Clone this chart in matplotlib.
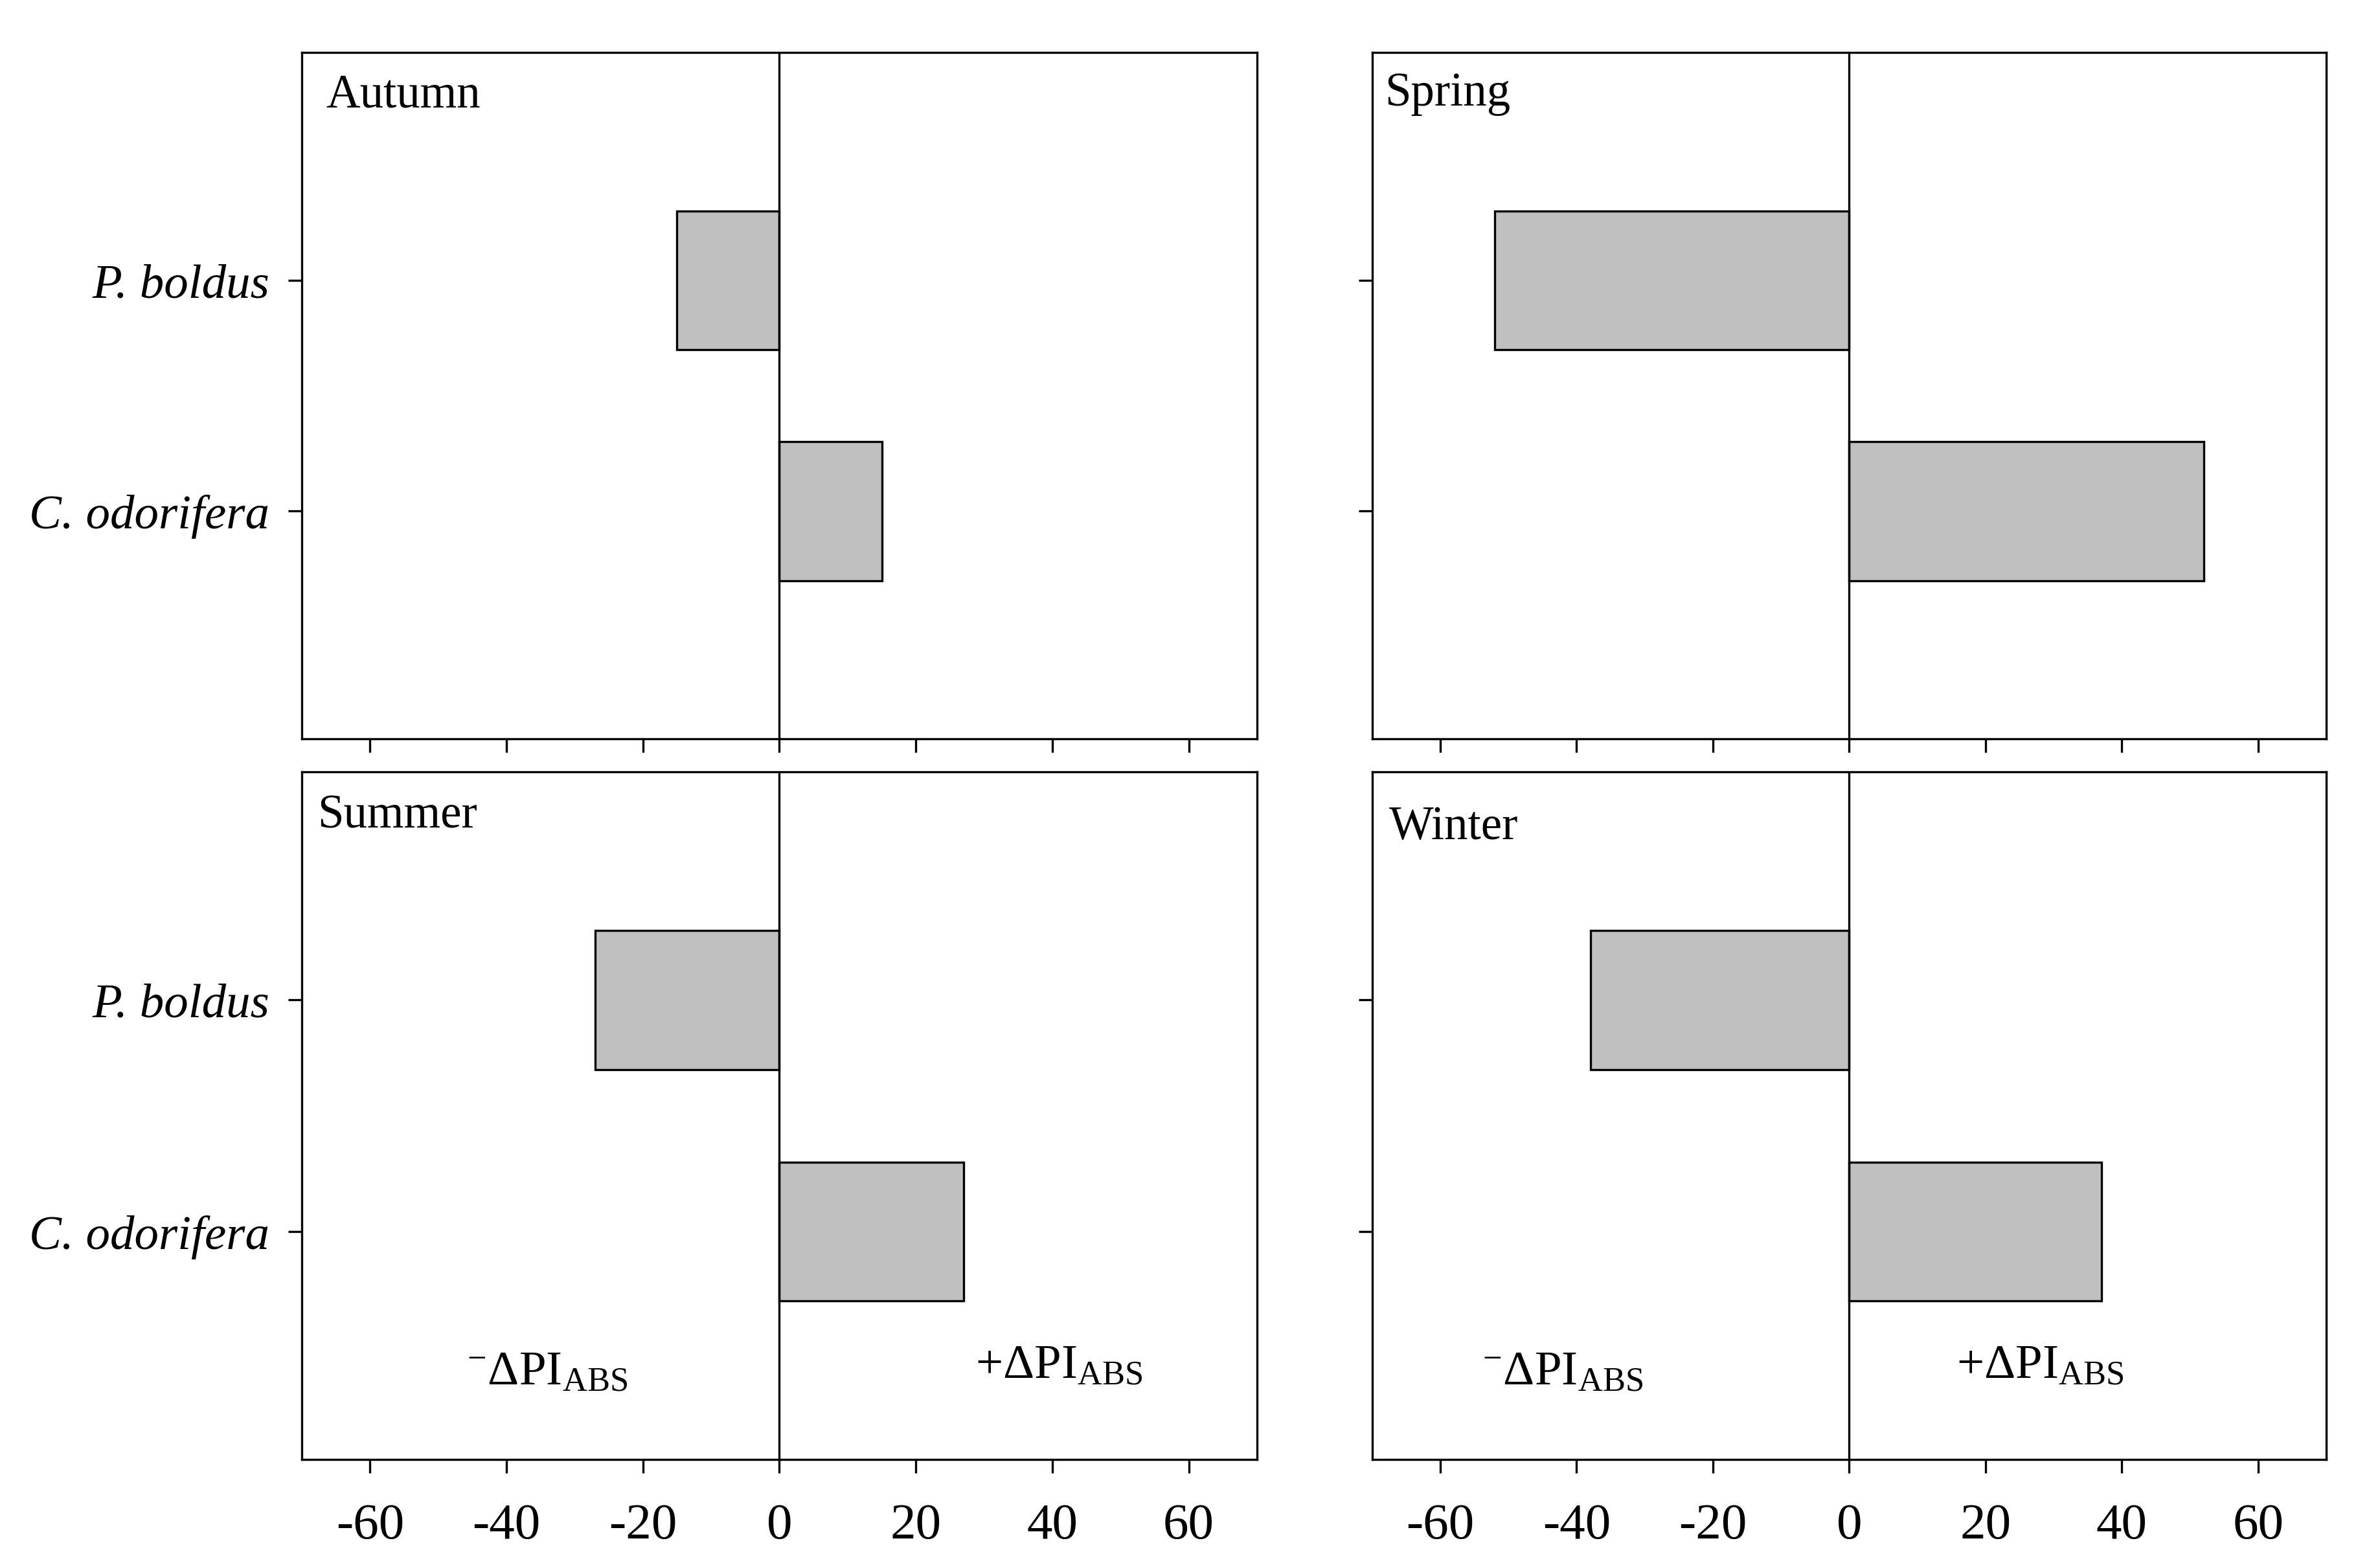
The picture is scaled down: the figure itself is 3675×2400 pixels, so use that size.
import matplotlib
matplotlib.use("Agg")
import matplotlib.pyplot as plt

plt.rcParams.update(
    {
        "font.family": "Liberation Serif",
        "mathtext.fontset": "custom",
        "mathtext.rm": "Liberation Serif",
        "mathtext.it": "Liberation Serif:italic",
        "axes.unicode_minus": False,
        "axes.linewidth": 0.8,
        "xtick.major.width": 0.8,
        "ytick.major.width": 0.8,
    }
)

SPECIES = ["P. boldus", "C. odorifera"]
SEASONS = ["Autumn", "Spring", "Summer", "Winter"]
DELTA_PI = {
    "Autumn": [-15, 15],
    "Spring": [-52, 52],
    "Summer": [-27, 27],
    "Winter": [-38, 37],
}
XTICKS = [-60, -40, -20, 0, 20, 40, 60]

# panel rectangles in figure fraction
RECTS = {
    "Autumn": [0.1268, 0.5244, 0.4012, 0.4414],
    "Spring": [0.5764, 0.5244, 0.4008, 0.4414],
    "Summer": [0.1268, 0.0608, 0.4012, 0.4423],
    "Winter": [0.5764, 0.0608, 0.4008, 0.4423],
}
LABEL_POS = {
    "Autumn": (0.025, 0.938),
    "Spring": (0.013, 0.940),
    "Summer": (0.016, 0.936),
    "Winter": (0.0175, 0.920),
}

fig = plt.figure(figsize=(12.253, 8.003), dpi=300)

for i, season in enumerate(SEASONS):
    ax = fig.add_axes(RECTS[season])
    ypos = list(range(len(SPECIES)))
    ax.barh(ypos, DELTA_PI[season], height=0.6, color="#c0c0c0",
            edgecolor="black", linewidth=0.8)
    ax.axvline(0, color="black", lw=0.8)
    ax.set_xlim(-70, 70)
    ax.set_ylim(1.985, -0.985)
    ax.set_xticks(XTICKS)
    ax.set_yticks(ypos)
    ax.tick_params(direction="out", length=5, labelsize=19)
    ax.tick_params(axis="x", pad=11)
    ax.tick_params(axis="y", pad=7)
    if i % 2 == 0:
        ax.set_yticklabels(SPECIES, fontstyle="italic", fontsize=18)
    else:
        ax.set_yticklabels([])
    if i < 2:
        ax.set_xticklabels([])
    lx, ly = LABEL_POS[season]
    ax.text(lx, ly, season, transform=ax.transAxes, fontsize=17.5,
            ha="left", va="center")
    if i >= 2:
        neg_x, pos_x = (-34, 41) if season == "Summer" else (-42, 28)
        ax.text(neg_x, 1.61, r"$^{-}\Delta\mathrm{PI}_{\mathrm{ABS}}$",
                fontsize=18, ha="center", va="center")
        ax.text(pos_x, 1.58, r"$+\Delta\mathrm{PI}_{\mathrm{ABS}}$",
                fontsize=18, ha="center", va="center")

fig.savefig("out.png", dpi=300)
